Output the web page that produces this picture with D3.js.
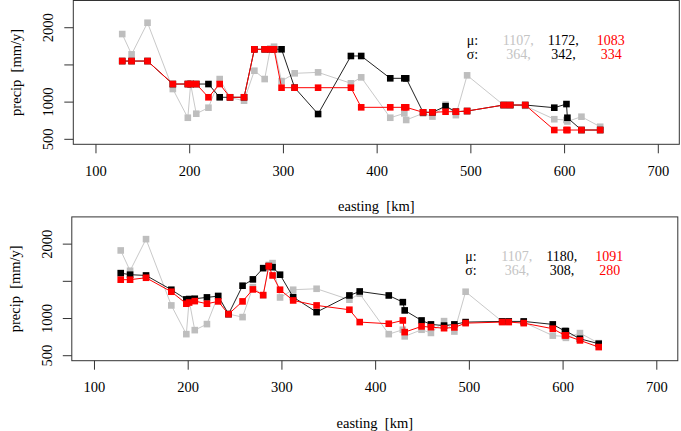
<!DOCTYPE html>
<html>
<head>
<meta charset="utf-8">
<script src="https://cdn.jsdelivr.net/npm/d3@7"></script>
<style>
  body { margin: 0; background: #fff; }
  text { font-family: "Liberation Serif", "DejaVu Serif", serif; }
</style>
</head>
<body>
<div id="chart"></div>
<script>
/* ---------- data ---------- */

// station eastings [km]
const easting = [128, 138, 155, 182, 198, 201, 207, 220, 232, 243, 258, 269, 280, 286, 290, 298, 312,
    337, 372, 383, 414, 429, 431, 449, 459, 473, 484, 496, 535, 542, 558, 589, 602, 603, 618, 638];

// observed precipitation (grey), same in both panels
const observed = [1915, 1642, 2067, 1176, 790, 1243, 844, 925, 1310, 1060, 1019, 1422, 1310, 1720, 1745, 1283, 1387,
    1400, 1253, 1333, 790, 849, 760, 849, 806, 965, 825, 1360, 960, 958, 950, 770, 760, 740, 804, 669];

// top panel estimates
const topBlack = [1552, 1552, 1552, 1243, 1243, 1243, 1243, 1243, 1065, 1065, 1065, 1710, 1710, 1710, 1710, 1710, 1194,
    840, 1620, 1620, 1320, 1320, 1320, 863, 863, 945, 871, 880, 961, 961, 961, 925, 974, 790, 625, 625];
const topRed = [1552, 1552, 1552, 1243, 1243, 1243, 1243, 1065, 1243, 1065, 1065, 1710, 1710, 1710, 1710, 1194, 1194,
    1194, 1194, 930, 930, 930, 930, 863, 863, 871, 871, 880, 961, 961, 961, 625, 625, 625, 625, 625];

// bottom panel estimates
const botBlack = [1610, 1589, 1579, 1387, 1257, 1262, 1266, 1284, 1301, 1059, 1441, 1526, 1677, 1704, 1690, 1589, 1288,
    1086, 1310, 1364, 1310, 1220, 1109, 974, 921, 905, 921, 952, 961, 961, 961, 921, 831, 831, 728, 661];
const botRed = [1522, 1522, 1548, 1360, 1199, 1215, 1234, 1199, 1230, 1059, 1230, 1391, 1315, 1704, 1579, 1387, 1243,
    1176, 1118, 952, 930, 974, 817, 894, 884, 870, 880, 938, 952, 952, 938, 863, 773, 773, 706, 616];

const xTicks = [100, 200, 300, 400, 500, 600, 700];
const yTicks = [500, 1000, 1500, 2000];
const yTickLabels = ["500", "1000", "", "2000"];

const topStats = { mu: ["1107,", "1172,", "1083"], sigma: ["364,", "342,", "334"] };
const botStats = { mu: ["1107,", "1180,", "1091"], sigma: ["364,", "308,", "280"] };

/* ---------- layout ---------- */

const W = 681, H = 431;
const svg = d3.select("#chart").append("svg")
    .attr("width", W).attr("height", H)
    .style("background", "#fff");

const panels = [
    { left: 73.3, right: 679.3, top: 0.5, bottom: 144.3, black: topBlack, red: topRed, stats: topStats },
    { left: 71.8, right: 677.8, top: 216.9, bottom: 360.7, black: botBlack, red: botRed, stats: botStats }
];

const seriesStyle = [
    { key: "obs",   line: "#c9c9c9", fill: "#bebebe" },
    { key: "black", line: "#222222", fill: "#000000" },
    { key: "red",   line: "#ff0000", fill: "#ff0000" }
];
const statColors = ["#c4c4c4", "#000000", "#ff0000"];

panels.forEach(p => {
    const x = d3.scaleLinear().domain([75.8, 722.4]).range([p.left, p.right]);
    const y = d3.scaleLinear().domain([433, 2366]).range([p.bottom, p.top]);
    const g = svg.append("g");

    // box
    g.append("rect")
        .attr("x", p.left).attr("y", p.top)
        .attr("width", p.right - p.left).attr("height", p.bottom - p.top)
        .attr("fill", "none").attr("stroke", "#333").attr("stroke-width", 1);

    // x axis
    const xa = g.append("g").attr("transform", `translate(0,${p.bottom})`);
    xa.selectAll("line").data(xTicks).enter().append("line")
        .attr("x1", d => x(d)).attr("x2", d => x(d))
        .attr("y1", 0).attr("y2", 9)
        .attr("stroke", "#333");
    xa.selectAll("text").data(xTicks).enter().append("text")
        .attr("x", d => x(d)).attr("y", 31.5)
        .attr("text-anchor", "middle")
        .attr("font-size", 14.5)
        .text(d => d);
    g.append("text")
        .attr("x", (p.left + p.right) / 2).attr("y", p.bottom + 67)
        .attr("text-anchor", "middle").attr("font-size", 14.5)
        .attr("xml:space", "preserve")
        .text("easting  [km]");

    // y axis
    const ya = g.append("g").attr("transform", `translate(${p.left},0)`);
    ya.selectAll("line").data(yTicks).enter().append("line")
        .attr("x1", -9).attr("x2", 0)
        .attr("y1", d => y(d)).attr("y2", d => y(d))
        .attr("stroke", "#333");
    ya.selectAll("text").data(yTicks).enter().append("text")
        .attr("transform", d => `translate(-20,${y(d)}) rotate(-90)`)
        .attr("text-anchor", "middle")
        .attr("font-size", 14.5)
        .text((d, i) => yTickLabels[i]);
    g.append("text")
        .attr("transform", `translate(${p.left - 52},${(p.top + p.bottom) / 2}) rotate(-90)`)
        .attr("text-anchor", "middle").attr("font-size", 14.5)
        .attr("xml:space", "preserve")
        .text("precip  [mm/y]");

    // series
    const values = { obs: observed, black: p.black, red: p.red };
    const line = d3.line().x(d => x(d[0])).y(d => y(d[1]));
    const s = 6.6;
    seriesStyle.forEach(st => {
        const pts = easting.map((e, i) => [e, values[st.key][i]]).filter(d => d[1] != null);
        g.append("path").datum(pts)
            .attr("d", line)
            .attr("fill", "none")
            .attr("stroke", st.line)
            .attr("stroke-width", 1);
        g.append("g").selectAll("rect").data(pts).enter().append("rect")
            .attr("x", d => x(d[0]) - s / 2)
            .attr("y", d => y(d[1]) - s / 2)
            .attr("width", s).attr("height", s)
            .attr("fill", st.fill);
    });

    // statistics legend
    const lx = p.left + 393.5;
    const rowY = [p.top + 44, p.top + 58];
    const fs = 14;
    g.append("text").attr("x", lx).attr("y", rowY[0]).attr("font-size", fs).text("μ:");
    g.append("text").attr("x", lx).attr("y", rowY[1]).attr("font-size", fs).text("σ:");
    const colX = [lx + 36, lx + 81, lx + 130];
    [p.stats.mu, p.stats.sigma].forEach((row, r) => {
        row.forEach((t, c) => {
            g.append("text")
                .attr("x", colX[c] + (r === 1 ? (c === 2 ? 4 : 3.5) : 0))
                .attr("y", rowY[r])
                .attr("font-size", fs)
                .attr("fill", statColors[c])
                .text(t);
        });
    });
});
</script>
</body>
</html>
